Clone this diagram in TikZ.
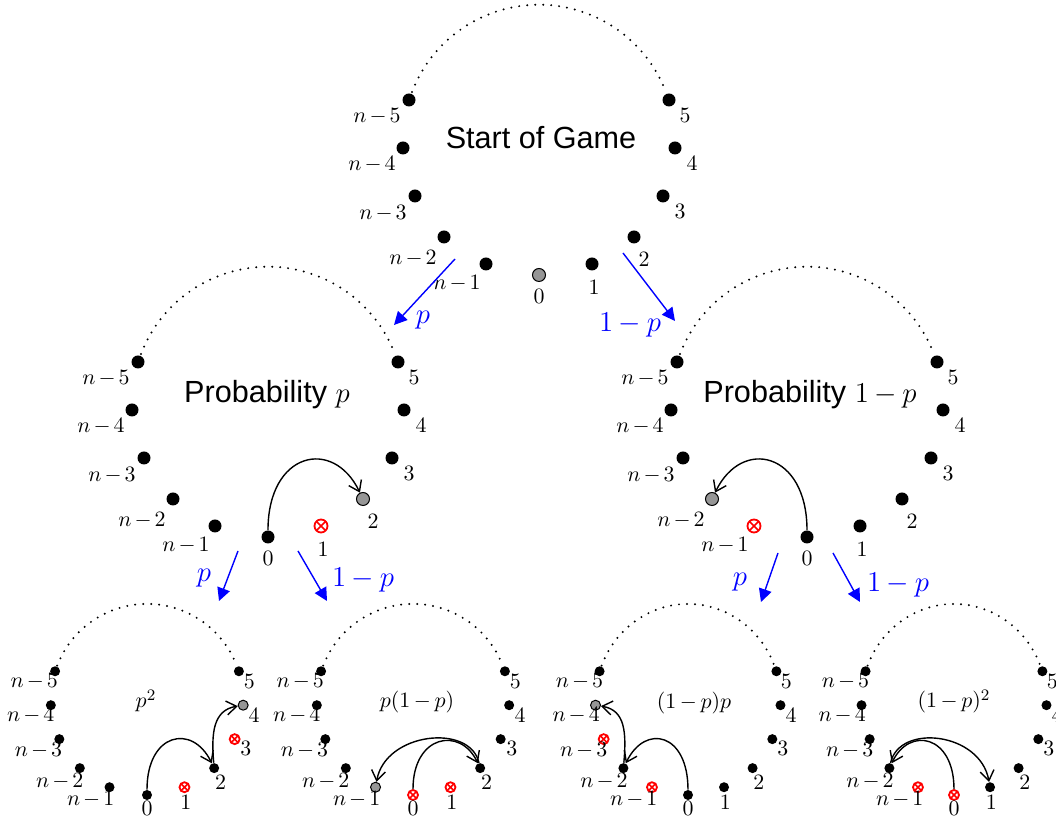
\documentclass[tikz,border=0pt]{standalone}
\usepackage[no-math]{fontspec}
\setmainfont{Liberation Sans}
\usetikzlibrary{arrows.meta}
\newcommand\setst[3]{\expandafter\def\csname st-#1-#2\endcsname{#3}}
\newcommand\lbm[1]{$\medmuskip=2.5mu #1$}
\newcommand\ptm[1]{$\medmuskip=3mu #1$}
\newcommand\blm[1]{$\medmuskip=3.5mu #1$}
\newcommand\panel[6]{% #1 prefix, #2 x, #3 y, #4 scale options, #5 dot size, #6 label offset factor
  \begin{scope}[shift={(#2,#3)},#4]
    \draw[dotarc] (-127,183) arc[start angle=159,end angle=21,radius=136];
    \foreach \k/\px/\py/\lx/\ly/\t in {m5/-130/175/-32/-16/n-5, m4/-136/127/-31/-16/n-4,
        m3/-124/79/-32/-17/n-3, m2/-95/38/-31/-21/n-2, m1/-53/11/-29/-19/n-1,
        0/0/0/0/-21/0, 1/53/11/2/-23/1, 2/95/38/10/-22/2, 3/124/79/17/-15/3,
        4/136/127/17/-15/4, 5/130/175/16/-15/5}{
      \edef\st{\ifcsname st-#1-\k\endcsname\csname st-#1-\k\endcsname\else bdot\fi}
      \expandafter\node\expandafter[\st, minimum size=#5] (#1\k) at (\px,\py) {};
      \node[lab] (#1L\k) at (\px+#6*\lx,\py+#6*\ly) {\lbm{\t}};
    }
  \end{scope}}
\tikzset{
  bdot/.style={circle, fill=black, inner sep=0pt},
  gdot/.style={circle, fill={rgb,255:red,150;green,150;blue,150}, draw=black, line width=0.5pt, inner sep=0pt},
  xdot/.style={circle, draw=red, line width=0.9pt, inner sep=0pt, fill=white,
    path picture={\draw[red, line width=0.8pt]
      (path picture bounding box.south west) -- (path picture bounding box.north east)
      (path picture bounding box.north west) -- (path picture bounding box.south east);}},
  lab/.style={inner sep=0pt, font=\fontsize{11}{13}\selectfont},
  title/.style={inner sep=0pt, font=\fontsize{15.3}{18}\selectfont},
  ptext/.style={inner sep=0pt, font=\fontsize{11}{13}\selectfont},
  blab/.style={inner sep=0pt, text=blue, font=\fontsize{15}{18}\selectfont},
  dotarc/.style={line width=1.1pt, dash pattern=on 0pt off 4pt, line cap=round},
  barrow/.style={draw=blue, line width=0.7pt, -{Triangle[length=6.5pt,width=6.5pt]}},
  carrow/.style={line width=0.7pt, -{Straight Barb[length=5pt,width=7pt]}},
}
\begin{document}
\begin{tikzpicture}[x=0.5pt,y=0.5pt]
  \useasboundingbox (0,0) rectangle (1056,824);
  % dot states
  \setst{T}{0}{gdot}
  \setst{ML}{1}{xdot}\setst{ML}{2}{gdot}
  \setst{MR}{m1}{xdot}\setst{MR}{m2}{gdot}
  \setst{Ba}{1}{xdot}\setst{Ba}{3}{xdot}\setst{Ba}{4}{gdot}
  \setst{Bb}{0}{xdot}\setst{Bb}{1}{xdot}\setst{Bb}{m1}{gdot}
  \setst{Bc}{m1}{xdot}\setst{Bc}{m3}{xdot}\setst{Bc}{m4}{gdot}
  \setst{Bd}{0}{xdot}\setst{Bd}{m1}{xdot}
  % panels
  \panel{T}{539}{549}{scale=1}{6.5pt}{1}
  \panel{ML}{268}{287}{scale=1}{6.5pt}{1}
  \panel{MR}{807}{287}{scale=1}{6.5pt}{1}
  \panel{Ba}{147}{29}{scale=0.707}{5pt}{0.92}
  \panel{Bb}{413}{29}{scale=0.707}{5pt}{0.92}
  \panel{Bc}{688}{29}{xscale=0.68,yscale=0.707}{5pt}{0.92}
  \panel{Bd}{954}{29}{xscale=0.68,yscale=0.707}{5pt}{0.92}
  % titles
  \node[title, anchor=base] (Ttitle) at (541,675) {Start of Game};
  \node[title, anchor=base] (MLtitle) at (267,421) {Probability $p$};
  \node[title, anchor=base] (MRtitle) at (810,421) {Probability \blm{1-p}};
  \node[ptext, anchor=base] (Batext) at (146,116) {\ptm{p^2}};
  \node[ptext, anchor=base] (Bbtext) at (417,116) {\ptm{p(1-p)}};
  \node[ptext, anchor=base] (Bctext) at (694,115) {\ptm{(1-p)p}};
  \node[ptext, anchor=base] (Bdtext) at (954,116) {\ptm{(1-p)^2}};
  % blue arrows
  \coordinate (a1s) at (455,565); \coordinate (a1e) at (394,499);
  \coordinate (a2s) at (623,571); \coordinate (a2e) at (675,503);
  \coordinate (a3s) at (238,273); \coordinate (a3e) at (219,223);
  \coordinate (a4s) at (298,273); \coordinate (a4e) at (327,223);
  \coordinate (a5s) at (778,271); \coordinate (a5e) at (761,222);
  \coordinate (a6s) at (833,271); \coordinate (a6e) at (860,222);
  \draw[barrow] (a1s) -- (a1e);
  \draw[barrow] (a2s) -- (a2e);
  \draw[barrow] (a3s) -- (a3e);
  \draw[barrow] (a4s) -- (a4e);
  \draw[barrow] (a5s) -- (a5e);
  \draw[barrow] (a6s) -- (a6e);
  \node[blab] (a1l) at (423,504) {$p$};
  \node[blab] (a2l) at (630,499) {\blm{1-p}};
  \node[blab] (a3l) at (204,246) {$p$};
  \node[blab] (a4l) at (363,244) {\blm{1-p}};
  \node[blab] (a5l) at (740,242) {$p$};
  \node[blab] (a6l) at (898,239) {\blm{1-p}};
  % black moves
  \draw[carrow] (ML0) .. controls +(0,85) and +(-30,62) .. (ML2);
  \draw[carrow] (MR0) .. controls +(0,85) and +(30,62) .. (MRm2);
  \draw[carrow] (Ba0) .. controls +(0,62) and +(-22,45) .. (Ba2);
  \draw[carrow] (Ba2) .. controls +(-3,35) and +(-30,-5) .. (Ba4);
  \draw[carrow] (Bb0) .. controls +(0,60) and +(-20,42) .. (Bb2);
  \draw[carrow] (Bb2) .. controls +(-10,45) and +(10,55) .. (Bbm1);
  \draw[carrow] (Bc0) .. controls +(0,62) and +(22,45) .. (Bcm2);
  \draw[carrow] (Bcm2) .. controls +(3,35) and +(30,-5) .. (Bcm4);
  \draw[carrow] (Bd0) .. controls +(0,60) and +(20,42) .. (Bdm2);
  \draw[carrow] (Bdm2) .. controls +(10,45) and +(-10,55) .. (Bd1);
\end{tikzpicture}
\end{document}
